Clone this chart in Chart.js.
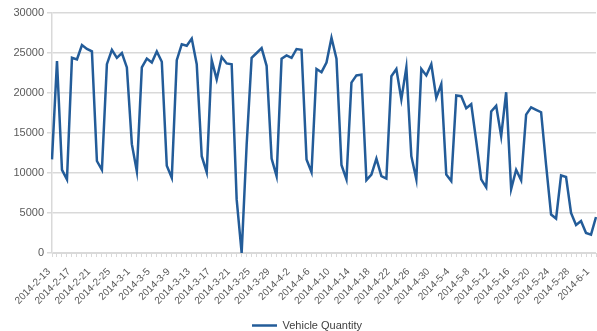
<!DOCTYPE html>
<html>
<head>
<meta charset="utf-8">
<script src="https://cdn.jsdelivr.net/npm/chart.js@4/dist/chart.umd.min.js"></script>
<style>
  html, body { margin: 0; padding: 0; background: #ffffff; }
  #wrap { width: 597px; height: 331px; }
</style>
</head>
<body>
<div id="wrap"><canvas id="chart" width="597" height="331"></canvas></div>
<script>
// Daily dates, 2014-2-13 to 2014-6-2
const dates = [
  '2014-2-13','2014-2-14','2014-2-15','2014-2-16','2014-2-17','2014-2-18','2014-2-19','2014-2-20',
  '2014-2-21','2014-2-22','2014-2-23','2014-2-24','2014-2-25','2014-2-26','2014-2-27','2014-2-28',
  '2014-3-1','2014-3-2','2014-3-3','2014-3-4','2014-3-5','2014-3-6','2014-3-7','2014-3-8',
  '2014-3-9','2014-3-10','2014-3-11','2014-3-12','2014-3-13','2014-3-14','2014-3-15','2014-3-16',
  '2014-3-17','2014-3-18','2014-3-19','2014-3-20','2014-3-21','2014-3-22','2014-3-23','2014-3-24',
  '2014-3-25','2014-3-26','2014-3-27','2014-3-28','2014-3-29','2014-3-30','2014-3-31',
  '2014-4-1','2014-4-2','2014-4-3','2014-4-4','2014-4-5','2014-4-6','2014-4-7','2014-4-8',
  '2014-4-9','2014-4-10','2014-4-11','2014-4-12','2014-4-13','2014-4-14','2014-4-15','2014-4-16',
  '2014-4-17','2014-4-18','2014-4-19','2014-4-20','2014-4-21','2014-4-22','2014-4-23','2014-4-24',
  '2014-4-25','2014-4-26','2014-4-27','2014-4-28','2014-4-29','2014-4-30',
  '2014-5-1','2014-5-2','2014-5-3','2014-5-4','2014-5-5','2014-5-6','2014-5-7','2014-5-8',
  '2014-5-9','2014-5-10','2014-5-11','2014-5-12','2014-5-13','2014-5-14','2014-5-15','2014-5-16',
  '2014-5-17','2014-5-18','2014-5-19','2014-5-20','2014-5-21','2014-5-22','2014-5-23','2014-5-24',
  '2014-5-25','2014-5-26','2014-5-27','2014-5-28','2014-5-29','2014-5-30','2014-5-31',
  '2014-6-1','2014-6-2'
];

// Vehicles per day
const vehicleQuantity = [
  11700, 24000, 10400, 9200, 24400, 24200, 26000, 25500,
  25200, 11500, 10400, 23600, 25400, 24400, 25000, 23200,
  13600, 10200, 23200, 24300, 23800, 25200, 23900, 10900,
  9400, 24100, 26100, 25900, 26800, 23600, 12100, 10100,
  24100, 21700, 24500, 23700, 23600, 6700, 0, 13500,
  24400, 25000, 25600, 23400, 11800, 9600, 24300,
  24700, 24400, 25500, 25400, 11700, 10100, 23000, 22600,
  23800, 26900, 24300, 11000, 9200, 21300, 22200, 22300,
  9100, 9800, 11800, 9600, 9300, 22100, 23000, 19200,
  23200, 12100, 9200, 23000, 22200, 23600,
  19400, 21100, 9800, 9000, 19700, 19600, 18100, 18600,
  14000, 9200, 8200, 17700, 18400, 14600, 20100, 8000,
  10400, 9100, 17300, 18200, 17900, 17600, 11000, 4800,
  4300, 9700, 9500, 5000, 3500, 4000, 2500,
  2300, 4500
];

const seriesName = 'Vehicle Quantity';
const labelEvery = 4;          // show every 4th date on the axis
const yMax = 30000;
const yStep = 5000;

const lineColor = '#235c99';
const gridColor = '#d9d9d9';
const textColor = '#595959';
const fontFamily = '"Liberation Sans", Arial, sans-serif';

// Centre the legend under the plot area rather than the whole canvas
const legendShift = {
  id: 'legendShift',
  afterLayout(chart) {
    if (chart.legend) {
      chart.legend.left += 18;
    }
  }
};

new Chart(document.getElementById('chart'), {
  type: 'line',
  data: {
    labels: dates,
    datasets: [{
      label: seriesName,
      data: vehicleQuantity,
      borderColor: lineColor,
      backgroundColor: lineColor,
      borderWidth: 2.5,
      pointRadius: 0,
      pointStyle: 'line',
      tension: 0,
      fill: false
    }]
  },
  plugins: [legendShift],
  options: {
    responsive: false,
    animation: false,
    layout: { padding: { left: 0, right: 1, top: 13, bottom: -10 } },
    plugins: {
      tooltip: { enabled: false },
      legend: {
        position: 'bottom',
        labels: {
          usePointStyle: true,
          pointStyleWidth: 25,
          font: { family: fontFamily, size: 11 },
          color: '#404040',
          padding: 2
        }
      }
    },
    scales: {
      x: {
        type: 'category',
        offset: false,
        afterFit: function (scale) {
          scale.height = 65;
          scale.paddingLeft = 0;
          scale.paddingRight = 0;
        },
        grid: {
          drawOnChartArea: false,
          drawTicks: true,
          tickLength: 4,
          color: gridColor
        },
        border: { color: gridColor, width: 1 },
        ticks: {
          autoSkip: false,
          maxRotation: 45,
          minRotation: 45,
          padding: 9,
          labelOffset: -3,
          color: textColor,
          font: { family: fontFamily, size: 10 },
          callback: function (value, index) {
            return index % labelEvery === 0 ? this.getLabelForValue(value) : '';
          }
        }
      },
      y: {
        min: 0,
        max: yMax,
        afterFit: function (scale) {
          scale.width = 52;
        },
        grid: {
          color: gridColor,
          lineWidth: 1.5,
          tickLength: 5
        },
        border: { color: gridColor, width: 1.5 },
        ticks: {
          stepSize: yStep,
          padding: 3,
          color: textColor,
          font: { family: fontFamily, size: 11 },
          callback: function (value) { return String(value); }
        }
      }
    }
  }
});
</script>
</body>
</html>
